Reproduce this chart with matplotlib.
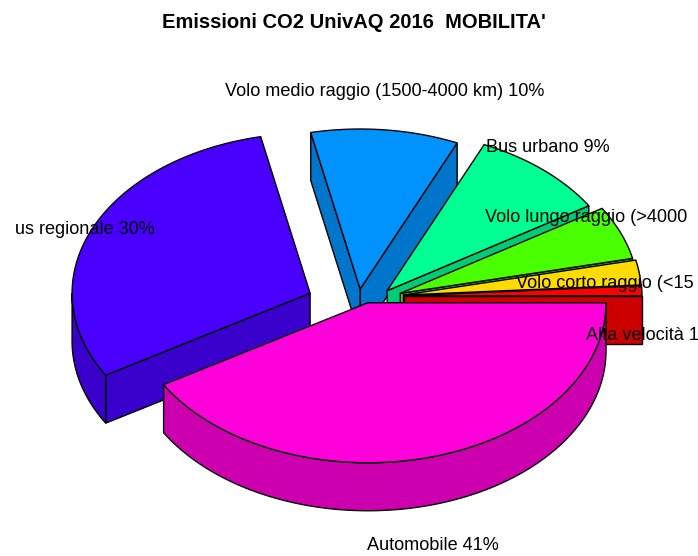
import numpy as np
from matplotlib import pyplot as plt
from matplotlib.patches import Polygon

title = "Emissioni CO2 UnivAQ 2016  MOBILITA'"

# slices, counter clockwise from 3 o'clock
categories = ["Alta velocità", "Volo corto raggio", "Volo lungo raggio", "Bus urbano",
              "Volo medio raggio", "Bus regionale", "Automobile"]
values = [1.0, 2.5, 5.4, 9.4, 10.0, 30.2, 41.4]
colors = ["#FF0000", "#FFDB00", "#49FF00", "#00FF92", "#0092FF", "#4900FF", "#FF00DB"]
side_colors = ["#CC0000", "#CCAF00", "#3ACC00", "#00CC75", "#0075CC", "#3A00CC", "#CC00AF"]

# label text as far as it can be read, the original runs off the picture
labels = ["Alta velocità 1", "Volo corto raggio (<15", "Volo lungo raggio (>4000",
          "Bus urbano 9%", "Volo medio raggio (1500-4000 km) 10%", "us regionale 30%", "Automobile 41%"]
label_x = [586, 516, 485, 486, 225, 15, 367]
label_y = [336, 284, 218, 147, 92, 230, 546]

# pie geometry in pixels
cx, cy = 355, 296
rx, ry = 238, 160
height = 48
explode_x, explode_y = 49, 7

fig = plt.figure(figsize=(6.98, 5.56), dpi=100)
ax = fig.add_axes([0, 0, 1, 1])
ax.set_xlim(0, 698)
ax.set_ylim(556, 0)
ax.axis("off")

def ell(x0, y0, a):
    return np.column_stack((x0 + rx*np.cos(a), y0 - ry*np.sin(a)))

def face(pts, color, z):
    ax.add_patch(Polygon(pts, closed=True, facecolor=color, edgecolor="black", linewidth=1, zorder=z))

def drop(pts):
    # same points pushed down by the pie height
    return pts + np.array([0, height])

edges = np.radians(np.cumsum([0] + values) / sum(values) * 360)
mids = (edges[:-1] + edges[1:]) / 2

# back slices first
order = np.argsort(-np.sin(mids))
z = 1
for i in order:
    a0, a1 = edges[i], edges[i+1]
    x0 = cx + explode_x*np.cos(mids[i])
    y0 = cy - explode_y*np.sin(mids[i])
    apex = np.array([[x0, y0]])

    # radial walls, only the ones turned to the viewer
    if np.sin(a0 - np.pi/2) < 0:
        wall = np.vstack((apex, ell(x0, y0, np.array([a0]))))
        face(np.vstack((wall, drop(wall)[::-1])), side_colors[i], z)
    if np.sin(a1 + np.pi/2) < 0:
        wall = np.vstack((apex, ell(x0, y0, np.array([a1]))))
        face(np.vstack((wall, drop(wall)[::-1])), side_colors[i], z)

    # outer wall, lower half of the ellipse only
    lo, hi = max(a0, np.pi), min(a1, 2*np.pi)
    if hi > lo:
        rim = ell(x0, y0, np.linspace(lo, hi, 100))
        face(np.vstack((rim, drop(rim)[::-1])), side_colors[i], z)

    # top
    arc = ell(x0, y0, np.linspace(a0, a1, 100))
    face(np.vstack((apex, arc)), colors[i], z + 0.5)
    z += 1

for t, x, y in zip(labels, label_x, label_y):
    ax.text(x, y, t, ha="left", va="center", fontsize=13.1, family="Liberation Sans",
            color="black", zorder=50, clip_on=False)

ax.text(354, 22, title, ha="center", va="center", fontsize=14.5, fontweight="bold",
        family="Liberation Sans", color="black", zorder=50)

plt.savefig("out.png", dpi=100)
